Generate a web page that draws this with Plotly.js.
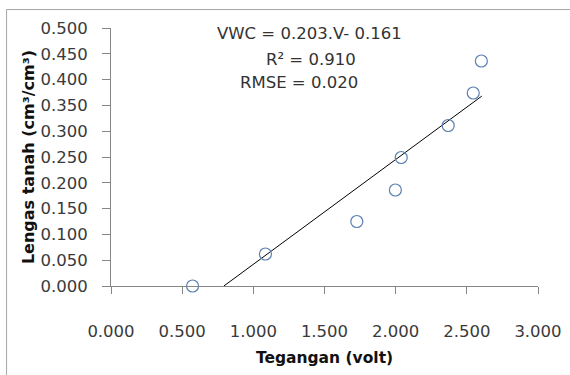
<!DOCTYPE html>
<html>
<head>
<meta charset="utf-8">
<script src="https://cdn.plot.ly/plotly-3.0.1.min.js"></script>
<style>
  html, body { margin: 0; padding: 0; background: #fff; }
  #chart { width: 570px; height: 375px; }
</style>
</head>
<body>
<div id="chart"></div>
<script>
// Measured data (voltage vs. soil moisture)
const voltage = [0.573, 1.085, 1.727, 1.998, 2.039, 2.369, 2.545, 2.602];
const moisture = [0.000, 0.062, 0.125, 0.186, 0.249, 0.311, 0.374, 0.436];

// Linear trendline endpoints as drawn in the reference
const trendX = [0.793, 2.605];
const trendY = [0.000, 0.368];

// Tick values
const xTicks = [0, 0.5, 1.0, 1.5, 2.0, 2.5, 3.0];
const yTicks = [0, 0.05, 0.10, 0.15, 0.20, 0.25, 0.30, 0.35, 0.40, 0.45, 0.50];

// Annotation text lines
const eqLines = ["VWC = 0.203.V- 0.161", "R\u00B2 = 0.910", "RMSE = 0.020"];

const W = 570, H = 375;
const margin = {l: 111, r: 31.7, t: 27.5, b: 89};
const plotW = W - margin.l - margin.r;
const plotH = H - margin.t - margin.b;
const px2paperX = p => (p - margin.l) / plotW;
const px2paperY = p => (H - margin.b - p) / plotH;

const font = "DejaVu Sans, Verdana, sans-serif";
const axisColor = "#868686";

const traces = [
  {
    x: trendX, y: trendY, type: "scatter", mode: "lines",
    line: {color: "#000000", width: 1}, hoverinfo: "skip", showlegend: false
  },
  {
    x: voltage, y: moisture, type: "scatter", mode: "markers",
    marker: {symbol: "circle-open", size: 12, color: "#5b80b2", line: {width: 1.2, color: "#5b80b2"}},
    showlegend: false, cliponaxis: false
  }
];

const annPos = [[1.397, 0.489], [1.404, 0.4385], [1.324, 0.395]];
const annotations = eqLines.map((t, i) => ({
  x: annPos[i][0], y: annPos[i][1], xref: "x", yref: "y",
  text: t, showarrow: false, xanchor: "center", yanchor: "middle",
  font: {family: font, size: 16.5, color: "#333333"}
}));

const layout = {
  width: W, height: H,
  margin: margin,
  paper_bgcolor: "#ffffff", plot_bgcolor: "#ffffff",
  showlegend: false,
  xaxis: {
    range: [0, 3], tickvals: xTicks, tickformat: ".3f",
    showgrid: false, zeroline: false, showline: true, linecolor: axisColor, linewidth: 1,
    ticks: "outside", ticklen: 7, tickcolor: axisColor, tickwidth: 1,
    ticklabelstandoff: 23,
    tickfont: {family: font, size: 16.5, color: "#3a3a3a"},
    title: {text: "Tegangan (volt)", standoff: 12, font: {family: font, size: 15.5, color: "#111", weight: "bold"}},
    fixedrange: true, automargin: false
  },
  yaxis: {
    range: [0, 0.5], tickvals: yTicks, tickformat: ".3f",
    showgrid: false, zeroline: false, showline: true, linecolor: axisColor, linewidth: 1,
    ticks: "outside", ticklen: 8, tickcolor: axisColor, tickwidth: 1,
    ticklabelstandoff: 11,
    tickfont: {family: font, size: 16.5, color: "#3a3a3a"},
    title: {text: "Lengas tanah (cm\u00B3/cm\u00B3)", standoff: 1, font: {family: font, size: 16, color: "#111", weight: "bold"}},
    fixedrange: true, automargin: false
  },
  annotations: annotations,
  shapes: [{
    type: "rect", xref: "paper", yref: "paper",
    x0: px2paperX(6.5), x1: px2paperX(620), y0: px2paperY(420), y1: px2paperY(9),
    line: {color: "#a6a6a6", width: 1}, fillcolor: "rgba(0,0,0,0)", layer: "below"
  }]
};

Plotly.newPlot("chart", traces, layout, {displayModeBar: false, staticPlot: true});
</script>
</body>
</html>
